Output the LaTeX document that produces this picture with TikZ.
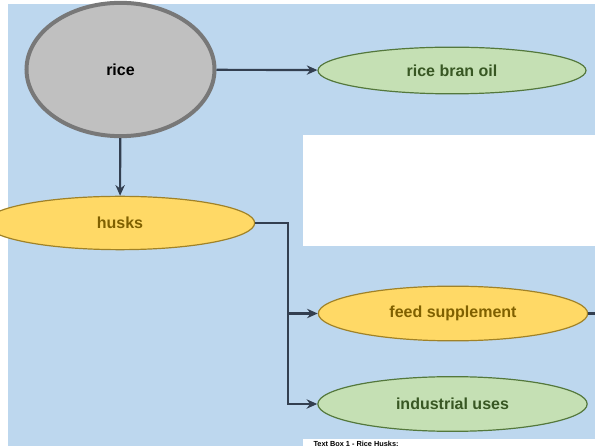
\documentclass[tikz,border=0pt]{standalone}
\usepackage{fontspec}
\setmainfont{Liberation Sans}
\usetikzlibrary{shapes.geometric,arrows.meta}

\definecolor{bgblue}{RGB}{189,215,238}
\definecolor{ricegray}{RGB}{192,192,192}
\definecolor{riceedge}{RGB}{120,120,120}
\definecolor{huskyellow}{RGB}{255,217,102}
\definecolor{huskedge}{RGB}{160,130,40}
\definecolor{usegreen}{RGB}{197,224,180}
\definecolor{useedge}{RGB}{84,120,60}
\definecolor{linkgray}{RGB}{51,63,80}
\definecolor{yellowtext}{RGB}{127,96,0}
\definecolor{greentext}{RGB}{56,87,35}

\tikzset{every picture/.style={line width=0.75pt}}
\tikzset{
  bubble/.style={ellipse,draw,inner sep=0pt,font=\fontsize{12}{14}\selectfont\bfseries},
  sourcebubble/.style={bubble,fill=ricegray,draw=riceedge,line width=3pt,text=black},
  yellowbubble/.style={bubble,fill=huskyellow,draw=huskedge,line width=0.9pt,text=yellowtext},
  greenbubble/.style={bubble,fill=usegreen,draw=useedge,line width=0.9pt,text=greentext},
  link/.style={draw=linkgray,line width=1.6pt},
  linkarrow/.style={link,-{Stealth[length=8pt,width=7pt]}}
}

\begin{document}
\begin{tikzpicture}[x=0.75pt,y=0.75pt,yscale=-1,xscale=1]
\useasboundingbox (0,0) rectangle (595,448);

%Background
\fill[bgblue] (8,4) rectangle (595,446);
\fill[white] (303,135) rectangle (595,246);
\fill[white] (303,439) rectangle (595,448);
% Text Node
\node [anchor=north west,inner sep=0pt,font=\fontsize{5.5}{6}\selectfont\bfseries] (tbox) at (313,440.5) {Text Box 1 - Rice Husks:};

% Nodes
\node [sourcebubble,minimum width=141pt,minimum height=100pt] (rice) at (120.5,69.5) {rice};
\node [greenbubble,minimum width=201pt,minimum height=35pt] (bran) at (452,70.5) {rice bran oil};
\node [yellowbubble,minimum width=202pt,minimum height=40pt] (husks) at (120,223) {husks};
\node [yellowbubble,minimum width=202pt,minimum height=41pt] (feed) at (453,313.5) {feed supplement};
\node [greenbubble,minimum width=202pt,minimum height=41pt] (indust) at (452.5,404) {industrial uses};

%Straight Lines
\draw [linkarrow] (rice) -- (bran);
\draw [linkarrow] (rice) -- (husks);
\coordinate (split) at (288,222);
\draw [link] (husks.east) -- (husks.east -| split) -- (feed.west -| split);
\draw [linkarrow] (feed.west -| split) |- (feed.west);
\draw [linkarrow] (feed.west -| split) |- (indust.west);
\coordinate (offpage) at (600,313.5);
\draw [link] (feed.east) -- (offpage);

\end{tikzpicture}
\end{document}
